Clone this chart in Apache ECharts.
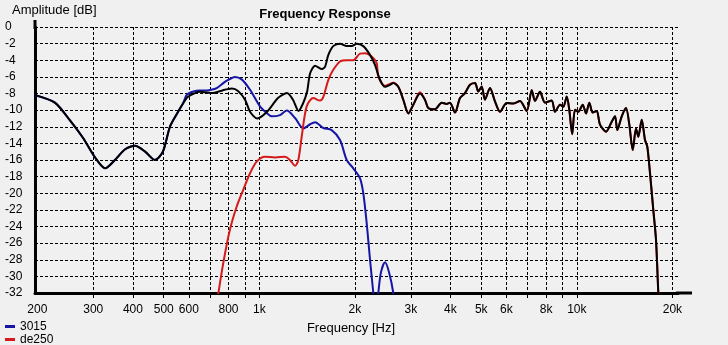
<!DOCTYPE html>
<html>
<head>
<meta charset="utf-8">
<title>Frequency Response</title>
<script src="https://cdn.jsdelivr.net/npm/echarts@6/dist/echarts.min.js"></script>
<style>
  html, body { margin: 0; padding: 0; background: #f0f0f0; }
  #chart { width: 728px; height: 345px; }
</style>
</head>
<body>
<div id="chart"></div>
<script>
// Frequency axis ticks (Hz) and their printed labels
const labelFreqs = [200, 300, 400, 500, 600, 800, 1000, 2000, 3000, 4000, 5000, 6000, 8000, 10000, 20000];
const labelTexts = ['200', '300', '400', '500', '600', '800', '1k', '2k', '3k', '4k', '5k', '6k', '8k', '10k', '20k'];
const gridFreqs = [300, 400, 500, 600, 700, 800, 900, 1000, 2000, 3000, 4000, 5000, 6000, 7000, 8000, 9000, 10000, 20000];

// Summed response (black)
const freqSum = [197, 227, 253, 278, 304, 327, 351, 378, 406, 437, 469, 497, 523, 551, 575, 596, 627, 650, 715, 769,
  820, 857, 902, 935, 984, 1058, 1145, 1223, 1277, 1329, 1373, 1414, 1445, 1498, 1570, 1610, 1650, 1710, 1796, 1885,
  1954, 2027, 2126, 2232, 2314, 2400, 2489, 2581, 2643, 2740, 2841, 2947, 3055, 3207, 3325, 3406, 3575, 3753, 3892, 3986,
  4134, 4286, 4444, 4608, 4779, 4894, 5016, 5138, 5327, 5524, 5729, 6014, 6310, 6624, 6954, 7211, 7384, 7657, 7940, 8336,
  8538, 8854, 9068, 9294, 9471, 9672, 9870, 10109, 10437, 10690, 10949, 11222, 11553, 11833, 12360, 12881, 13193, 13417, 13851, 14289,
  14635, 15000, 15364, 15621, 16010, 16398, 16672, 17005, 17414, 17758, 18059, 18300];
const dbSum = [-8.2, -9.1, -11.2, -13.3, -15.7, -17.0, -16.0, -14.7, -14.3, -15.0, -16.0, -15.0, -12.0, -10.4, -9.2, -8.4, -7.95, -7.8, -7.95, -7.6,
  -7.4, -7.7, -8.75, -10.2, -11.0, -10.2, -8.55, -7.95, -8.75, -10.1, -9.2, -7.8, -5.6, -4.65, -5.05, -4.8, -3.35, -2.3, -2.0, -2.3,
  -2.3, -2.0, -2.3, -3.35, -4.55, -6.35, -7.2, -6.95, -6.75, -7.2, -8.75, -10.4, -9.35, -8.0, -8.75, -9.75, -9.9, -9.1, -9.25, -9.1,
  -10.3, -8.55, -7.95, -6.95, -6.75, -7.75, -7.15, -8.75, -7.35, -8.95, -10.2, -9.15, -9.2, -8.9, -10.1, -7.6, -8.9, -7.8, -9.1, -8.85,
  -10.2, -9.35, -9.6, -8.35, -10.0, -12.9, -9.95, -10.2, -9.35, -10.4, -9.1, -10.3, -10.1, -11.75, -12.6, -11.4, -10.75, -12.4, -10.75, -9.75,
  -11.75, -14.8, -12.2, -13.2, -11.15, -13.6, -14.4, -17.6, -22.0, -25.6, -32.0, -36.0];

// 3015 driver (blue)
const freq3015 = [197, 227, 253, 278, 304, 327, 351, 378, 406, 437, 469, 497, 523, 551, 575, 591, 620, 650, 683, 716,
  734, 770, 790, 828, 838, 880, 935, 1005, 1055, 1094, 1162, 1220, 1296, 1376, 1445, 1498, 1591, 1690, 1796, 1885,
  1977, 2076, 2126, 2179, 2232, 2286, 2323, 2370, 2417, 2489, 2562, 2643, 2695];
const db3015 = [-8.2, -9.1, -11.2, -13.3, -15.7, -17.0, -16.0, -14.7, -14.3, -15.0, -16.0, -15.0, -12.0, -10.4, -9.2, -8.15, -7.75, -7.65, -7.65, -7.5,
  -7.35, -6.75, -6.45, -6.05, -6.0, -6.3, -7.55, -9.55, -10.35, -10.75, -10.6, -10.05, -10.95, -12.2, -11.7, -11.45, -12.15, -12.4, -13.6, -16.0,
  -17.0, -18.2, -20.0, -23.6, -28.0, -32.0, -35.0, -32.0, -29.5, -28.3, -29.5, -32.0, -35.0];

// de250 driver (red)
const freqDe250 = [740, 770, 808, 849, 890, 935, 981, 1042, 1120, 1205, 1249, 1296, 1327, 1360, 1410, 1479, 1553, 1591, 1650, 1710,
  1796, 1885, 1977, 2076, 2152, 2259, 2343, 2370, 2489, 2581, 2643, 2740, 2841, 2947, 3055, 3207, 3325, 3406, 3575, 3753,
  3892, 3986, 4134, 4286, 4444, 4608, 4779, 4894, 5016, 5138, 5327, 5524, 5729, 6014, 6310, 6624, 6954, 7211, 7384, 7657,
  7940, 8336, 8538, 8854, 9068, 9294, 9471, 9672, 9870, 10109, 10437, 10690, 10949, 11222, 11553, 11833, 12360, 12881, 13193, 13417,
  13851, 14289, 14635, 15000, 15364, 15621, 16010, 16398, 16672, 17005, 17414, 17758, 18059, 18300];
const dbDe250 = [-32.5, -28.4, -24.4, -21.6, -19.6, -17.6, -16.2, -15.6, -15.7, -15.6, -16.0, -16.7, -16.0, -13.2, -9.55, -8.55, -8.85, -8.4, -6.35, -5.15,
  -4.15, -4.0, -4.0, -3.2, -3.15, -3.55, -4.35, -5.95, -7.1, -6.85, -6.7, -7.2, -8.75, -10.4, -9.35, -7.85, -8.75, -9.75, -9.9, -9.1,
  -9.25, -9.1, -10.3, -8.55, -7.95, -6.95, -6.75, -7.75, -7.15, -8.75, -7.35, -8.95, -10.2, -9.15, -9.2, -8.9, -10.1, -7.6, -8.9, -7.8,
  -9.1, -8.85, -10.2, -9.35, -9.6, -8.35, -10.0, -12.9, -9.95, -10.2, -9.35, -10.4, -9.1, -10.3, -10.1, -11.75, -12.6, -11.4, -10.75, -12.4,
  -10.75, -9.75, -11.75, -14.8, -12.2, -13.2, -11.15, -13.6, -14.4, -17.6, -22.0, -25.6, -32.0, -36.0];

const FONT = '"Liberation Sans", Arial, sans-serif';
const lg = Math.log10;
const toPoints = (f, d) => f.map((v, i) => [lg(v), d[i]]);
const freqLabel = v => {
  const f = Math.round(Math.pow(10, v));
  const i = labelFreqs.indexOf(f);
  return i >= 0 ? labelTexts[i] : '';
};

const chart = echarts.init(document.getElementById('chart'), null, { renderer: 'canvas' });

const dash = { color: '#000', width: 1, type: [3, 2] };

chart.setOption({
  animation: false,
  backgroundColor: '#f0f0f0',
  textStyle: { fontFamily: FONT },
  grid: { left: 35, top: 27, width: 643, height: 266, containLabel: false },
  xAxis: {
    type: 'value',
    min: lg(196.6),
    max: lg(20830),
    axisLine: { show: true, onZero: false, lineStyle: { color: '#000', width: 3 } },
    axisTick: { show: true, inside: false, length: 5, customValues: gridFreqs.map(lg), lineStyle: { color: '#000', width: 1 } },
    axisLabel: { customValues: labelFreqs.map(lg), formatter: freqLabel, color: '#000', fontSize: 12, fontFamily: FONT, margin: 11 },
    splitLine: { show: true, lineStyle: dash }
  },
  yAxis: {
    type: 'value',
    min: -32,
    max: 0,
    interval: 2,
    axisLine: { show: true, onZero: false, lineStyle: { color: '#000', width: 3 } },
    axisTick: { show: false },
    axisLabel: { color: '#000', fontSize: 12, fontFamily: FONT, align: 'left', margin: 30 },
    splitLine: { show: true, lineStyle: dash }
  },
  legend: {
    orient: 'vertical',
    left: 5,
    top: 320,
    height: 40,
    padding: 0,
    itemGap: 0,
    itemWidth: 10,
    itemHeight: 3,
    icon: 'rect',
    selectedMode: false,
    data: ['3015', 'de250'],
    textStyle: { color: '#000', fontSize: 12, fontFamily: FONT, lineHeight: 13 }
  },
  graphic: [
    { type: 'text', style: { text: 'Frequency Response', x: 325, y: 14, align: 'center', verticalAlign: 'middle', font: 'bold 13px ' + FONT, fill: '#000' } },
    { type: 'text', style: { text: 'Amplitude [dB]', x: 12, y: 10, align: 'left', verticalAlign: 'middle', font: '13px ' + FONT, fill: '#000' } },
    { type: 'text', style: { text: 'Frequency [Hz]', x: 351, y: 328, align: 'center', verticalAlign: 'middle', font: '13px ' + FONT, fill: '#000' } },
    // axis line overhangs past the plot frame
    { type: 'line', shape: { x1: 676, y1: 293, x2: 692, y2: 293 }, style: { stroke: '#000', lineWidth: 3 } },
    { type: 'line', shape: { x1: 35, y1: 20, x2: 35, y2: 29 }, style: { stroke: '#000', lineWidth: 3 } }
  ],
  series: [
    {
      name: '3015', type: 'line', data: toPoints(freq3015, db3015), showSymbol: false, symbol: 'none',
      smooth: 0.3, clip: true, lineStyle: { color: '#1616a6', width: 2 }, itemStyle: { color: '#1616a6' }, z: 2
    },
    {
      name: 'de250', type: 'line', data: toPoints(freqDe250, dbDe250), showSymbol: false, symbol: 'none',
      smooth: 0.3, clip: true, lineStyle: { color: '#d41a1a', width: 2 }, itemStyle: { color: '#d41a1a' }, z: 3
    },
    {
      name: 'Summe', type: 'line', data: toPoints(freqSum, dbSum), showSymbol: false, symbol: 'none',
      smooth: 0.25, clip: true, lineStyle: { color: '#000', width: 2 }, itemStyle: { color: '#000' }, z: 4
    }
  ]
});
</script>
</body>
</html>
